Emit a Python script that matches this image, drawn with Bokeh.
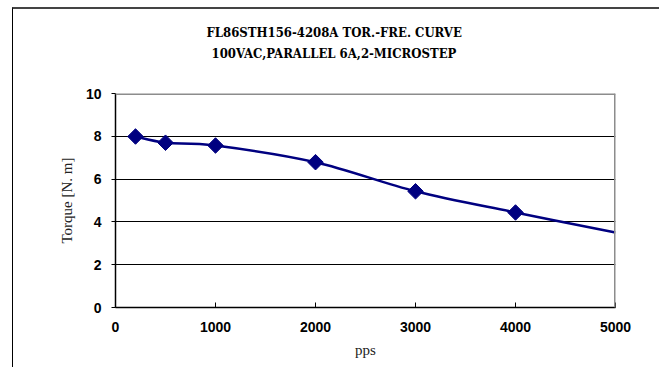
from bokeh.plotting import figure
from bokeh.models import Span, FixedTicker, Title
from bokeh.embed import file_html
from bokeh.resources import INLINE

title_lines = ["FL86STH156-4208A TOR.-FRE. CURVE", "100VAC,PARALLEL 6A,2-MICROSTEP"]
x_label = "pps"
y_label = "Torque [N. m]"
speed_pps = [200, 500, 1000, 2000, 3000, 4000]
torque_nm = [7.99, 7.70, 7.57, 6.79, 5.43, 4.44]
end_speed = [5000]
end_torque = [3.5]
x_ticks = [0, 1000, 2000, 3000, 4000, 5000]
y_ticks = [0, 2, 4, 6, 8, 10]

NAVY = "#000080"

p = figure(width=647, height=360, output_backend="svg", toolbar_location=None,
           x_range=(0, 5000), y_range=(0, 10),
           min_border_left=102, min_border_right=45, min_border_top=84, min_border_bottom=62,
           margin=(7, 0, 0, 12))
p.styles = {"border-top": "2px solid #444444", "border-left": "1px solid #000000"}
p.outline_line_color = None
p.background_fill_color = "white"
p.border_fill_color = "white"

p.xgrid.visible = False
p.ygrid.ticker = FixedTicker(ticks=[2, 4, 6, 8])
p.ygrid.grid_line_color = "black"
p.ygrid.grid_line_width = 1
p.ygrid.grid_line_alpha = 1

for ax in (p.xaxis, p.yaxis):
    ax.axis_line_color = "black"
    ax.axis_line_width = 1.5
    ax.minor_tick_line_color = None
    ax.major_label_text_font = "Liberation Sans"
    ax.major_label_text_font_style = "bold"
    ax.major_label_text_font_size = "14px"
    ax.major_label_text_color = "black"
    ax.major_tick_line_color = "black"
    ax.axis_label_text_font = "Liberation Serif"
    ax.axis_label_text_font_style = "normal"
    ax.axis_label_text_font_size = "15px"
    ax.axis_label_text_color = "#222222"

p.xaxis.ticker = FixedTicker(ticks=x_ticks)
p.xaxis.major_tick_in = 5
p.xaxis.major_tick_out = 0
p.xaxis.major_label_standoff = 14
p.xaxis.axis_label = x_label
p.xaxis.axis_label_standoff = 7
p.yaxis.ticker = FixedTicker(ticks=y_ticks)
p.yaxis.major_tick_in = 0
p.yaxis.major_tick_out = 4
p.yaxis.major_label_standoff = 10
p.yaxis.axis_label = y_label
p.yaxis.axis_label_standoff = 8

# gray top/right frame borders
p.add_layout(Span(location=10, dimension="width", line_color="#8c8c8c", line_width=3))
p.add_layout(Span(location=5000, dimension="height", line_color="#8c8c8c", line_width=3))

# smooth curve (Catmull-Rom -> cubic bezier) through the data points
cx = speed_pps + end_speed
cy = torque_nm + end_torque
n = len(cx)
x0, y0, x1, y1, c0x, c0y, c1x, c1y = [], [], [], [], [], [], [], []
for i in range(n - 1):
    pm = (cx[max(i - 1, 0)], cy[max(i - 1, 0)])
    p0 = (cx[i], cy[i])
    p1 = (cx[i + 1], cy[i + 1])
    p2 = (cx[min(i + 2, n - 1)], cy[min(i + 2, n - 1)])
    x0.append(p0[0]); y0.append(p0[1]); x1.append(p1[0]); y1.append(p1[1])
    c0x.append(p0[0] + (p1[0] - pm[0]) / 6); c0y.append(p0[1] + (p1[1] - pm[1]) / 6)
    c1x.append(p1[0] - (p2[0] - p0[0]) / 6); c1y.append(p1[1] - (p2[1] - p0[1]) / 6)
p.bezier(x0=x0, y0=y0, x1=x1, y1=y1, cx0=c0x, cy0=c0y, cx1=c1x, cy1=c1y,
         line_color=NAVY, line_width=2.5)
p.scatter(speed_pps, torque_nm, marker="square", angle=0.785398, size=11,
          fill_color=NAVY, line_color=NAVY)

# titles (first added sits closest to the plot)
p.add_layout(Title(text=title_lines[1], align="left", offset=96, standoff=66,
                   text_font="DejaVu Serif Condensed", text_font_style="bold",
                   text_font_size="13px", text_color="black"), "above")
p.add_layout(Title(text=title_lines[0], align="left", offset=91, standoff=-58,
                   text_font="DejaVu Serif Condensed", text_font_style="bold",
                   text_font_size="13px", text_color="black"), "above")

open("out.html", "w").write(file_html(p, INLINE))
